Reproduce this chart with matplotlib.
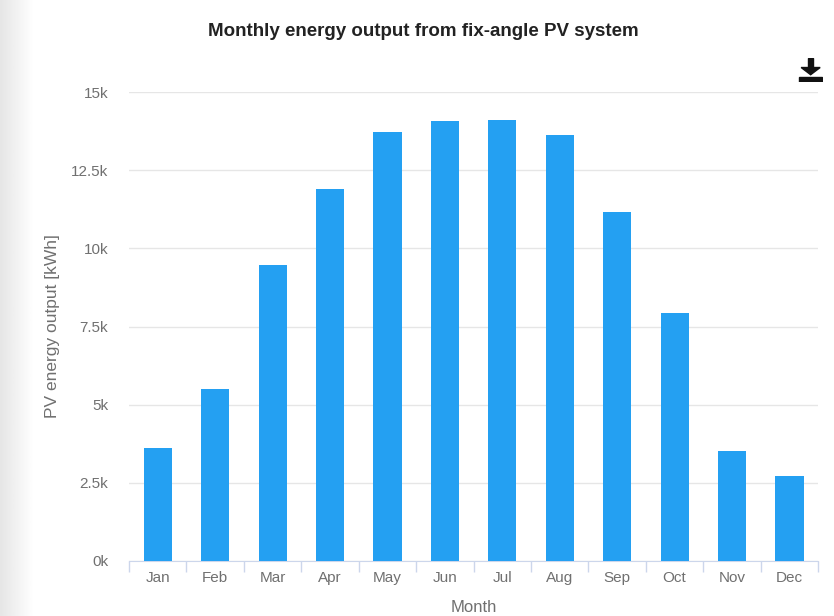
import numpy as np
import matplotlib
matplotlib.use("Agg")
import matplotlib.pyplot as plt
from matplotlib.ticker import FuncFormatter

# ── data ──────────────────────────────────────────────────────────────────────
months = ["Jan", "Feb", "Mar", "Apr", "May", "Jun",
          "Jul", "Aug", "Sep", "Oct", "Nov", "Dec"]
energy_kwh = [3620, 5500, 9470, 11900, 13730, 14070,
              14100, 13640, 11160, 7930, 3520, 2720]
y_ticks = [0, 2500, 5000, 7500, 10000, 12500, 15000]

BAR_COLOR  = "#24a0f2"
TEXT_GREY  = "#707070"
GRID_GREY  = "#e6e6e6"

plt.rcParams["font.family"] = ["Liberation Sans", "DejaVu Sans"]

fig = plt.figure(figsize=(8.34, 6.16), dpi=100)

# ── soft shadow strip on the left edge ───────────────────────────────────────
shade = fig.add_axes([0, 0, 0.04, 1])
grad = np.linspace(0.90, 1.0, 64).reshape(1, -1)
shade.imshow(grad, aspect="auto", cmap="gray", vmin=0, vmax=1, extent=[0, 1, 0, 1])
shade.axis("off")

ax = fig.add_axes([0.1547, 0.0893, 0.8263, 0.7613])
x = np.arange(len(months))
ax.bar(x, energy_kwh, width=0.49, color=BAR_COLOR, zorder=3)

ax.set_xlim(-0.5, len(months) - 0.5)
ax.set_ylim(0, 15000)
ax.set_yticks(y_ticks)
ax.yaxis.set_major_formatter(FuncFormatter(lambda v, _: f"{v/1000:g}k"))
ax.grid(axis="y", color=GRID_GREY, linewidth=1, zorder=0)

ax.set_xticks(x)
ax.set_xticklabels(months)
ax.set_xticks(np.arange(-0.5, len(months)), minor=True)
ax.tick_params(axis="x", which="major", length=0, pad=7, labelsize=11, labelcolor=TEXT_GREY)
ax.tick_params(axis="x", which="minor", length=8, color="#ccd6eb", width=1)
ax.tick_params(axis="y", length=0, pad=15, labelsize=11, labelcolor=TEXT_GREY)

for s in ["top", "right", "left"]:
    ax.spines[s].set_visible(False)
ax.spines["bottom"].set_color("#ccd6eb")

ax.set_xlabel("Month", fontsize=12, color=TEXT_GREY, labelpad=11)
ax.set_ylabel("PV energy output [kWh]", fontsize=12.5, color=TEXT_GREY, labelpad=8)

fig.text(0.507, 0.949, "Monthly energy output from fix-angle PV system",
         ha="center", va="center", fontsize=13.5, fontweight="bold", color="#222222")

# ── download icon (top right) ────────────────────────────────────────────────
icon = fig.add_axes([0.957, 0.867, 0.030, 0.039])
icon.set_xlim(0, 1); icon.set_ylim(0, 1); icon.axis("off")
icon.add_patch(plt.Rectangle((0.05, 0.0), 0.9, 0.22, color="#111111"))
icon.add_patch(plt.Rectangle((0.40, 0.55), 0.20, 0.45, color="#111111"))
icon.add_patch(plt.Polygon([(0.12, 0.6), (0.88, 0.6), (0.5, 0.3)], color="#111111"))

fig.savefig("out.png", dpi=100, facecolor="white")
